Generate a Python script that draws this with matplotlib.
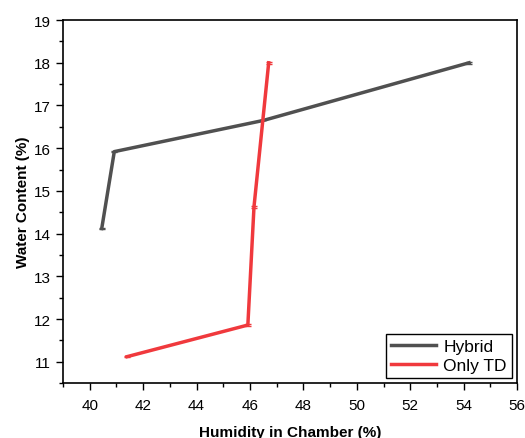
import matplotlib
matplotlib.use("Agg")
import matplotlib.pyplot as plt
from matplotlib.ticker import MultipleLocator

plt.rcParams['font.family'] = ['Liberation Sans', 'DejaVu Sans']

hybrid_x = [40.45, 40.92, 46.5, 54.2]
hybrid_y = [14.12, 15.92, 16.65, 18.0]
hybrid_err = [0.02, 0.02, 0.0, 0.02]

td_x = [41.4, 45.92, 46.15, 46.7]
td_y = [11.12, 11.86, 14.63, 18.0]
td_err = [0.02, 0.02, 0.02, 0.02]

fig = plt.figure(figsize=(5.25, 4.39), dpi=100)
ax = fig.add_axes([0.12, 0.125, 0.865, 0.827])

ax.errorbar(hybrid_x, hybrid_y, yerr=hybrid_err, color='#505050', lw=2.5,
            capsize=2.5, elinewidth=1.0, capthick=1.0, label='Hybrid')
ax.errorbar(td_x, td_y, yerr=td_err, color='#f0393d', lw=2.5,
            capsize=2.5, elinewidth=1.0, capthick=1.0, label='Only TD')

ax.set_xlim(39, 56)
ax.set_ylim(10.5, 19)
ax.xaxis.set_major_locator(MultipleLocator(2))
ax.xaxis.set_minor_locator(MultipleLocator(1))
ax.yaxis.set_major_locator(MultipleLocator(1))
ax.yaxis.set_minor_locator(MultipleLocator(0.5))
ax.tick_params(which='both', direction='out', top=False, right=False, labelsize=11)
ax.tick_params(which='major', length=5, width=1)
ax.tick_params(which='minor', length=3, width=1)
ax.tick_params(axis='x', pad=6)
for s in ax.spines.values():
    s.set_linewidth(1.2)

ax.set_xlabel('Humidity in Chamber (%)', fontsize=11, fontweight='bold', labelpad=9)
ax.set_ylabel('Water Content (%)', fontsize=11, fontweight='bold', labelpad=3)

handles, labels = ax.get_legend_handles_labels()
handles = [h[0] for h in handles]
leg = ax.legend(handles, labels, loc='lower right', fontsize=12.5, fancybox=False,
                edgecolor='black', framealpha=1, handlelength=2.6,
                borderpad=0.3, labelspacing=0.2, handletextpad=0.4, borderaxespad=0.3)
leg.get_frame().set_linewidth(1.0)

fig.savefig('out.png', dpi=100)
